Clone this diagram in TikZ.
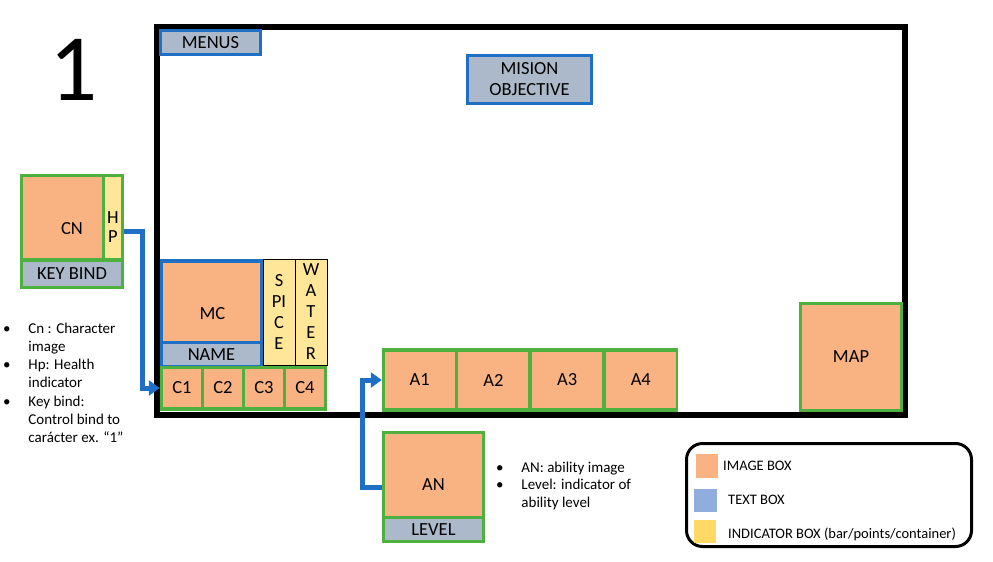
\documentclass[tikz,border=0pt]{standalone}
\usepackage{fontspec}
\setmainfont{Carlito}
\usetikzlibrary{arrows.meta,positioning}

\definecolor{imgorange}{HTML}{F9B282}
\definecolor{txtgray}{HTML}{ACB9CA}
\definecolor{txtblue}{HTML}{1F70C4}
\definecolor{boxgreen}{HTML}{4DB03F}
\definecolor{indyellow}{HTML}{FFE699}
\definecolor{keyblue}{HTML}{8FAEDE}
\definecolor{keyyellow}{HTML}{FFD966}

\tikzset{
  box/.style={inner sep=0pt, font=\fontsize{18.5}{21}\selectfont, align=center},
  imgbox/.style={box, fill=imgorange},
  txtbox/.style={box, fill=txtgray},
  txtframe/.style={txtbox, draw=txtblue, line width=3pt},
  indbox/.style={box, fill=indyellow, draw=black, line width=0.8pt},
  holder/.style={inner sep=0pt, fill=#1},
  link/.style={draw=txtblue, line width=5pt, -{Triangle[width=15pt,length=11pt]}},
  note/.style={inner sep=0pt, font=\fontsize{15}{18.3}\selectfont},
  keytext/.style={inner sep=0pt, anchor=base west, font=\fontsize{14.5}{17}\selectfont},
  swatch/.style={inner sep=0pt, fill=#1},
}

\begin{document}
\begin{tikzpicture}[x=1pt,y=-1pt]
\useasboundingbox (0,0) rectangle (993,562);
\node[inner sep=0pt, font=\fontsize{95}{95}\selectfont] (num) at (74,70) {1};
\draw[line width=6pt] (157,27) rectangle (905,415);
\node[txtframe, minimum width=100, minimum height=24] (menus) at (210.5,42.5) {MENUS};
\node[txtframe, minimum width=124, minimum height=48] (mision) at (529.5,79.5) {MISION\\OBJECTIVE};

\node[holder=boxgreen, minimum width=104, minimum height=115] (cnframe) at (72,231.5) {};
\node[imgbox, minimum width=79, minimum height=81] (cn) at (62.5,217.5) {};
\node[box] (cntext) at ([shift={(9.5,11.5)}]cn.center) {CN};
\node[box, fill=indyellow, minimum width=16, minimum height=81] (hp) at (113,217.5) {};
\node[box, font=\fontsize{18.5}{19}\selectfont] (hptext) at ([shift={(0,10)}]hp.center) {H\\P};
\node[txtbox, minimum width=98, minimum height=24] (keybind) at (72,274) {KEY BIND};

\node[holder=txtblue, minimum width=103, minimum height=109] (mcframe) at (211.5,313.5) {};
\node[imgbox, minimum width=97, minimum height=78] (mc) at (211.5,302) {};
\node[box] (mctext) at ([shift={(1,11.5)}]mc.center) {MC};
\node[txtbox, minimum width=97, minimum height=21] (name) at (211.5,354.5) {NAME};
\node[indbox, minimum width=32, minimum height=106] (spice) at (279,312) {S\\PI\\C\\E};
\node[indbox, minimum width=32, minimum height=106] (water) at (311,312) {W\\A\\T\\E\\R};

\node[holder=boxgreen, minimum width=167, minimum height=45] (crow) at (243.5,388.5) {};
\foreach \i in {1,...,4}
  \node[imgbox, minimum size=38] (c\i) at ({141+41*\i},388) {C\i};

\node[holder=boxgreen, minimum width=296, minimum height=64] (arow) at (530,380) {};
\foreach \i in {1,...,4}
  \node[imgbox, minimum width=70, minimum height=56] (a\i) at ({346+73.7*\i},380) {A\i};

\node[holder=boxgreen, minimum width=103, minimum height=112] (anframe) at (433.5,487) {};
\node[imgbox, minimum width=97, minimum height=82] (an) at (433.5,475) {};
\node[box] (antext) at ([shift={(0,10)}]an.center) {AN};
\node[txtbox, minimum width=97, minimum height=21] (level) at (433.5,529.5) {LEVEL};

\node[imgbox, draw=boxgreen, line width=3pt, minimum width=101, minimum height=107] (map) at (851,357) {MAP};

\draw[link] (cnframe.east) -- ++(18,0) |- (crow.west |- c1.center);
\draw[link] (anframe.west) -- ++(-19,0) |- (arow.west |- a1.center);

\node[note, anchor=base west] (cnnotes) at (2.8,333) {\begin{tabular}[t]{@{}l@{\hspace{18pt}}l@{}}
\textbullet & Cn : Character\\
 & image\\
\textbullet & Hp: Health\\
 & indicator\\
\textbullet & Key bind:\\
 & Control bind to\\
 & carácter ex. “1”
\end{tabular}};
\node[note, font=\fontsize{15}{17.5}\selectfont, anchor=base west] (annotes) at (495.8,472) {\begin{tabular}[t]{@{}l@{\hspace{18pt}}l@{}}
\textbullet & AN: ability image\\
\textbullet & Level: indicator of\\
 & ability level
\end{tabular}};

\draw[line width=3pt, rounded corners=16pt] (686.5,443.5) rectangle (971.5,546.5);
\node[swatch=imgorange, minimum width=22, minimum height=24] (imgswatch) at (707,466) {};
\node[swatch=keyblue, minimum width=23, minimum height=23] (txtswatch) at (705.5,500.5) {};
\node[swatch=keyyellow, minimum width=22, minimum height=23] (indswatch) at (705,531.5) {};
\node[keytext] (imgkey) at (723,470) {IMAGE BOX};
\node[keytext] (txtkey) at (728,504) {TEXT BOX};
\node[keytext] (indkey) at (728,538) {INDICATOR BOX (bar/points/container)};
\end{tikzpicture}
\end{document}
